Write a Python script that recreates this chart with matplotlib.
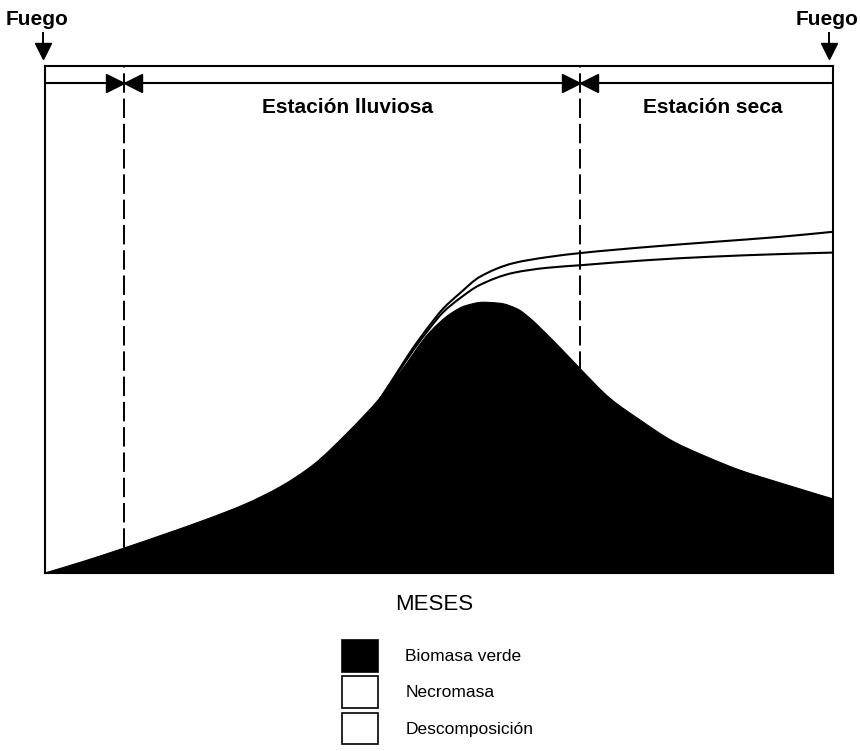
import matplotlib
matplotlib.use("Agg")
import matplotlib.pyplot as plt
import matplotlib.transforms as mtransforms
from matplotlib.patches import Patch, PathPatch
from matplotlib.path import Path

plt.rcParams['font.family'] = ['Liberation Sans', 'DejaVu Sans']

# ---- data (months 0..12, relative biomass 0..100) ----
bio_months = [0.0, 0.61, 1.20, 1.83, 2.44, 3.05, 3.58, 4.08, 4.60, 5.10, 5.41, 5.86,
              6.17, 6.40, 6.67, 6.93, 7.19, 7.39, 7.61, 7.84, 8.15, 8.60, 9.06, 9.56,
              10.08, 10.58, 11.19, 12.0]
biomasa_verde = [0.0, 2.4, 4.9, 7.7, 10.5, 13.6, 17.0, 21.3, 27.6, 34.5, 39.6, 47.5,
                 51.1, 52.7, 53.4, 53.2, 52.1, 50.2, 47.5, 44.5, 40.3, 34.5, 30.2, 26.0,
                 22.9, 20.3, 17.8, 14.6]

line_months = [5.10, 5.35, 5.60, 5.86, 6.06, 6.32, 6.62, 7.13, 7.65, 8.15, 9.17, 10.17, 11.19, 12.0]
necromasa = [34.3, 39.0, 43.8, 48.3, 51.4, 54.2, 56.8, 59.2, 60.2, 60.7, 61.7, 62.4, 62.9, 63.2]
descomposicion = [34.3, 39.3, 44.3, 48.9, 52.1, 55.2, 58.4, 61.1, 62.3, 63.1, 64.3, 65.3, 66.3, 67.3]

season_bounds = [1.2, 8.15]          # start of rainy season, start of dry season
season_labels = ["Estación lluviosa", "Estación seca"]
season_label_x = [4.60, 10.17]
fire_months = [0.0, 12.0]
fire_label = "Fuego"
band_y = 96.6

legend_labels = ["Biomasa verde", "Necromasa", "Descomposición"]
legend_colors = ["black", "white", "white"]
xlabel = "MESES"


def smooth_vertices(xs, ys):
    """Monotone cubic Hermite (Fritsch-Carlson) through the points, as Bezier vertices."""
    n = len(xs)
    h = [xs[i + 1] - xs[i] for i in range(n - 1)]
    d = [(ys[i + 1] - ys[i]) / h[i] for i in range(n - 1)]
    m = [0.0] * n
    m[0] = d[0]
    m[-1] = d[-1]
    for i in range(1, n - 1):
        if d[i - 1] * d[i] <= 0:
            m[i] = 0.0
        else:
            w1 = 2 * h[i] + h[i - 1]
            w2 = h[i] + 2 * h[i - 1]
            m[i] = (w1 + w2) / (w1 / d[i - 1] + w2 / d[i])
    verts = [(xs[0], ys[0])]
    codes = [Path.MOVETO]
    for i in range(n - 1):
        c1 = (xs[i] + h[i] / 3.0, ys[i] + m[i] * h[i] / 3.0)
        c2 = (xs[i + 1] - h[i] / 3.0, ys[i + 1] - m[i + 1] * h[i] / 3.0)
        verts += [c1, c2, (xs[i + 1], ys[i + 1])]
        codes += [Path.CURVE4] * 3
    return verts, codes


# ---- figure ----
fig = plt.figure(figsize=(8.6, 7.51), dpi=100)
ax = fig.add_axes([45/860, 1-573/751, 788/860, 507/751])
ax.set_xlim(0, 12)
ax.set_ylim(0, 100)
ax.set_xticks([])
ax.set_yticks([])
for s in ax.spines.values():
    s.set_linewidth(1.5)
    s.set_color('black')

# season boundaries (dashed)
ax.vlines(season_bounds, 0, 100, colors='black', linestyles=(0, (10, 3)), linewidth=1.4, zorder=1)

# band line with bow-tie markers
ax.axhline(band_y, color='black', linewidth=1.5, zorder=2)
left_off = mtransforms.offset_copy(ax.transData, fig=fig, x=-9, y=0, units='dots')
right_off = mtransforms.offset_copy(ax.transData, fig=fig, x=9, y=0, units='dots')
for b in season_bounds:
    ax.plot([b], [band_y], marker='>', color='black', markersize=13, transform=left_off, zorder=3)
    ax.plot([b], [band_y], marker='<', color='black', markersize=13, transform=right_off, zorder=3)

for lab, lx in zip(season_labels, season_label_x):
    ax.text(lx, 90.7, lab, ha='center', va='baseline', fontsize=15, fontweight='bold', color='black')

# necromasa / descomposicion lines (smooth)
for series in (necromasa, descomposicion):
    v, c = smooth_vertices(line_months, series)
    ax.add_patch(PathPatch(Path(v, c), facecolor='none', edgecolor='black', linewidth=1.5, zorder=3.5))

# biomass fill (smooth outline)
v, c = smooth_vertices(bio_months, biomasa_verde)
v = v + [(bio_months[-1], 0.0), (bio_months[0], 0.0), (bio_months[0], 0.0)]
c = c + [Path.LINETO, Path.LINETO, Path.CLOSEPOLY]
ax.add_patch(PathPatch(Path(v, c), facecolor='black', edgecolor='black', linewidth=0.8, zorder=4))

# fire arrows
for fm, tx in zip(fire_months, [-0.114, 11.91]):
    ax_x = fm - 0.03 if fm == 0 else fm - 0.06
    ax.plot([ax_x, ax_x], [106.5, 103.5], color='black', linewidth=1.4, clip_on=False)
    ax.plot([ax_x], [102.9], marker='v', color='black', markersize=12, clip_on=False)
    ax.text(tx, 108.1, fire_label, ha='center', va='baseline', fontsize=15, fontweight='bold',
            clip_on=False)

# x label
fig.text(434/860, 1-605/751, xlabel, ha='center', va='center', fontsize=16)

handles = [Patch(facecolor=col, edgecolor='black', linewidth=1.2) for col in legend_colors]
fig.legend(handles, legend_labels, loc='upper left', bbox_to_anchor=(342/860, 1-640/751),
           bbox_transform=fig.transFigure, frameon=False, fontsize=12.5,
           handlelength=2.1, handleheight=2.42, labelspacing=0.27, handletextpad=1.55,
           borderpad=0, borderaxespad=0)

fig.savefig("out.png", dpi=100)
